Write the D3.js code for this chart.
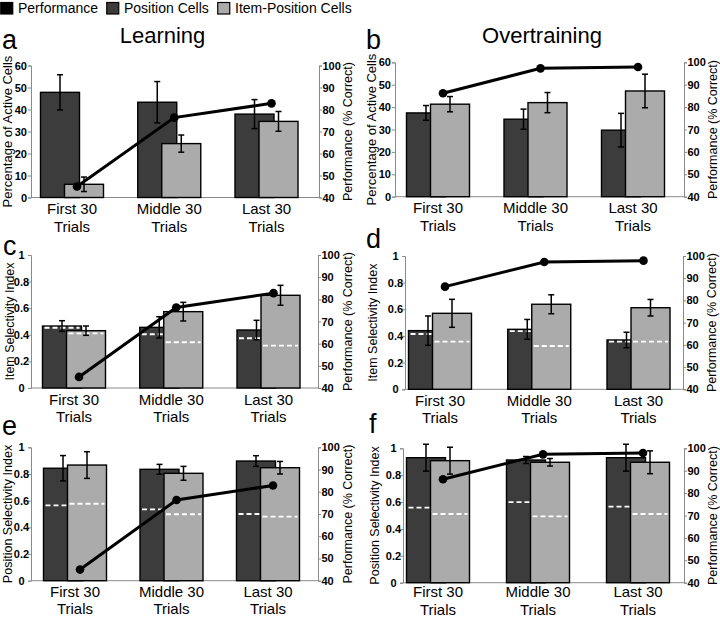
<!DOCTYPE html>
<html><head><meta charset="utf-8">
<script src="https://cdn.jsdelivr.net/npm/d3@7"></script>
<style>
body{margin:0;background:#fff}
svg{display:block}
text{font-family:"Liberation Sans",Arial,Helvetica,sans-serif}
</style>
</head><body>
<svg id="chart" width="720" height="617"></svg>
<script>
// ---------- data ----------
const categories = ["First 30 Trials", "Middle 30 Trials", "Last 30 Trials"];
const legendLabels = ["Performance", "Position Cells", "Item-Position Cells"];
const columnTitles = ["Learning", "Overtraining"];

const perfLearning = [45, 76.3, 82.8];
const perfOvertraining = [86.2, 97.3, 97.9];
const perfTicks = [40, 50, 60, 70, 80, 90, 100];

const activeTicks = [0, 10, 20, 30, 40, 50, 60];
const selectivityTicks = [0, 0.2, 0.4, 0.6, 0.8, 1];

// a: Percentage of active cells, learning
const activeLearnPos = [47.8, 43.3, 37.9];
const activeLearnPosErr = [8.0, 9.4, 6.6];
const activeLearnItem = [6.0, 24.5, 34.6];
const activeLearnItemErr = [3.3, 3.9, 4.5];
// b: Percentage of active cells, overtraining
const activeOverPos = [37.4, 34.6, 29.7];
const activeOverPosErr = [3.3, 4.5, 7.5];
const activeOverItem = [41.3, 42.0, 47.2];
const activeOverItemErr = [3.4, 4.5, 7.5];
// c: Item selectivity, learning
const itemSelLearnPos = [0.466, 0.456, 0.436];
const itemSelLearnPosErr = [0.04, 0.08, 0.073];
const itemSelLearnPosChance = [0.453, 0.404, 0.374];
const itemSelLearnItem = [0.431, 0.574, 0.697];
const itemSelLearnItemErr = [0.035, 0.07, 0.075];
const itemSelLearnItemChance = [0.411, 0.344, 0.318];
// d: Item selectivity, overtraining
const itemSelOverPos = [0.44, 0.45, 0.37];
const itemSelOverPosErr = [0.11, 0.074, 0.058];
const itemSelOverPosChance = [0.415, 0.437, 0.357];
const itemSelOverItem = [0.57, 0.638, 0.612];
const itemSelOverItemErr = [0.105, 0.071, 0.062];
const itemSelOverItemChance = [0.357, 0.325, 0.357];
// e: Position selectivity, learning
const posSelLearnPos = [0.843, 0.835, 0.897];
const posSelLearnPosErr = [0.095, 0.037, 0.04];
const posSelLearnPosChance = [0.565, 0.535, 0.5];
const posSelLearnItem = [0.867, 0.805, 0.847];
const posSelLearnItemErr = [0.1, 0.052, 0.047];
const posSelLearnItemChance = [0.577, 0.498, 0.48];
// f: Position selectivity, overtraining
const posSelOverPos = [0.93, 0.913, 0.93];
const posSelOverPosErr = [0.1, 0.026, 0.1];
const posSelOverPosChance = [0.558, 0.6, 0.566];
const posSelOverItem = [0.908, 0.896, 0.896];
const posSelOverItemErr = [0.1, 0.028, 0.085];
const posSelOverItemChance = [0.511, 0.494, 0.511];

// ---------- styles / layout ----------
const DARK = "#3c3c3c", LIGHT = "#ababab", AXIS = "#8a8a8a";
const BAR_W = 39, GROUP_W = 63;

const panels = [
  {letter:"a", lx:2, ly:49, yLabel:"Percentage of Active Cells", tfs:13, xL:31, xR:319, yTop:65.5, yBot:197.5, c1:72, c3:266.5,
   domain:[0,60], ticks:activeTicks, anchor:"end", pos:activeLearnPos, posErr:activeLearnPosErr, item:activeLearnItem, itemErr:activeLearnItemErr,
   perf:perfLearning, ltx:12, rtx:352, t1:16.5, t2:34},
  {letter:"b", lx:366, ly:49, yLabel:"Percentage of Active Cells", tfs:13, xL:395, xR:684, yTop:62.3, yBot:196.7, c1:438, c3:633,
   domain:[0,60], ticks:activeTicks, anchor:"end", pos:activeOverPos, posErr:activeOverPosErr, item:activeOverItem, itemErr:activeOverItemErr,
   perf:perfOvertraining, ltx:376, rtx:717, t1:16.5, t2:34},
  {letter:"c", lx:3, ly:255, yLabel:"Item Selectivity Index", tfs:12.5, xL:31, xR:318, yTop:255, yBot:388, c1:74, c3:268.5,
   domain:[0,1], ticks:selectivityTicks, anchor:"middle", pos:itemSelLearnPos, posErr:itemSelLearnPosErr, posCh:itemSelLearnPosChance,
   item:itemSelLearnItem, itemErr:itemSelLearnItemErr, itemCh:itemSelLearnItemChance, perf:perfLearning, ltx:14, rtx:352, t1:16.5, t2:34},
  {letter:"d", lx:366, ly:248, yLabel:"Item Selectivity Index", tfs:12.5, xL:405, xR:683, yTop:256, yBot:389.3, c1:440, c3:638.5,
   domain:[0,1], ticks:selectivityTicks, anchor:"middle", pos:itemSelOverPos, posErr:itemSelOverPosErr, posCh:itemSelOverPosChance,
   item:itemSelOverItem, itemErr:itemSelOverItemErr, itemCh:itemSelOverItemChance, perf:perfOvertraining, ltx:377, rtx:716, t1:16.5, t2:34},
  {letter:"e", lx:2, ly:435, yLabel:"Position Selectivity Index", tfs:12.5, xL:31, xR:318, yTop:447.3, yBot:580.7, c1:75, c3:268,
   domain:[0,1], ticks:selectivityTicks, anchor:"middle", pos:posSelLearnPos, posErr:posSelLearnPosErr, posCh:posSelLearnPosChance,
   item:posSelLearnItem, itemErr:posSelLearnItemErr, itemCh:posSelLearnItemChance, perf:perfLearning, ltx:12, rtx:352, t1:16, t2:33.5},
  {letter:"f", lx:369, ly:433, yLabel:"Position Selectivity Index", tfs:12.5, xL:403, xR:684, yTop:448.3, yBot:582.7, c1:438, c3:638,
   domain:[0,1], ticks:selectivityTicks, anchor:"middle", pos:posSelOverPos, posErr:posSelOverPosErr, posCh:posSelOverPosChance,
   item:posSelOverItem, itemErr:posSelOverItemErr, itemCh:posSelOverItemChance, perf:perfOvertraining, ltx:379, rtx:717, t1:14.5, t2:32}
];

const svg = d3.select("#chart");

// ---------- legend ----------
const legendX = [0, 106, 217];
const legendFill = ["#000", DARK, LIGHT];
const lg = svg.append("g");
legendLabels.forEach((lab, i) => {
  lg.append("rect").attr("x", legendX[i] + 0.75).attr("y", 2.5).attr("width", 12).attr("height", 11.5)
    .attr("fill", legendFill[i]).attr("stroke", "#000").attr("stroke-width", 1.2);
  lg.append("text").attr("x", legendX[i] + 18).attr("y", 13).attr("font-size", 14).text(lab);
});

// column titles
svg.append("text").attr("x", 162.5).attr("y", 43).attr("text-anchor", "middle").attr("font-size", 22).text(columnTitles[0]);
svg.append("text").attr("x", 542).attr("y", 43).attr("text-anchor", "middle").attr("font-size", 22).text(columnTitles[1]);

// ---------- panels ----------
panels.forEach(p => {
  const g = svg.append("g");
  const x = d3.scalePoint().domain(categories).range([p.c1, p.c3]);
  const yL = d3.scaleLinear().domain(p.domain).range([p.yBot, p.yTop]);
  const yR = d3.scaleLinear().domain([40, 100]).range([p.yBot, p.yTop]);

  // panel letter
  g.append("text").attr("x", p.lx).attr("y", p.ly).attr("font-size", 27).text(p.letter);

  // left axis
  const fmt = d3.format("~g");
  const axL = g.append("g").attr("transform", `translate(${p.xL},0)`)
    .call(d3.axisLeft(yL).tickValues(p.ticks).tickFormat(fmt).tickSize(3).tickPadding(1));
  axL.selectAll("path.domain, line").attr("stroke", AXIS);
  axL.selectAll("text").attr("font-size", 11).attr("font-weight", "bold").attr("fill", "#000")
    .attr("font-family", "Liberation Sans, Arial, sans-serif");
  if (p.anchor === "middle") axL.selectAll("text").attr("text-anchor", "middle").attr("x", -9.5);

  // right axis
  const axR = g.append("g").attr("transform", `translate(${p.xR},0)`)
    .call(d3.axisRight(yR).tickValues(perfTicks).tickSize(3).tickPadding(0.5));
  axR.selectAll("path.domain, line").attr("stroke", AXIS);
  axR.selectAll("text").attr("font-size", 11).attr("font-weight", "bold").attr("fill", "#000")
    .attr("font-family", "Liberation Sans, Arial, sans-serif");

  // baseline
  g.append("line").attr("x1", p.xL).attr("x2", p.xR).attr("y1", p.yBot).attr("y2", p.yBot).attr("stroke", AXIS);

  // axis titles
  g.append("text").attr("transform", `translate(${p.ltx},${(p.yTop + p.yBot) / 2}) rotate(-90)`)
    .attr("text-anchor", "middle").attr("font-size", p.tfs).text(p.yLabel);
  g.append("text").attr("transform", `translate(${p.rtx},${(p.yTop + p.yBot) / 2}) rotate(-90)`)
    .attr("text-anchor", "middle").attr("font-size", 12.5).text("Performance (% Correct)");

  // category labels
  categories.forEach(c => {
    const parts = c.split(" ");
    const l1 = parts.slice(0, 2).join(" "), l2 = parts.slice(2).join(" ");
    const t = g.append("text").attr("text-anchor", "middle").attr("font-size", 15);
    t.append("tspan").attr("x", x(c)).attr("y", p.yBot + p.t1).text(l1);
    t.append("tspan").attr("x", x(c)).attr("y", p.yBot + p.t2).text(l2);
  });

  const series = [
    {vals: p.pos, err: p.posErr, ch: p.posCh, fill: DARK, off: -GROUP_W / 2},
    {vals: p.item, err: p.itemErr, ch: p.itemCh, fill: LIGHT, off: GROUP_W / 2 - BAR_W}
  ];
  // bars + chance lines
  series.forEach(s => {
    categories.forEach((c, i) => {
      const bx = x(c) + s.off;
      g.append("rect").attr("x", bx).attr("y", yL(s.vals[i])).attr("width", BAR_W)
        .attr("height", p.yBot - yL(s.vals[i])).attr("fill", s.fill).attr("stroke", "#000").attr("stroke-width", 1.4);
      if (s.ch) {
        g.append("line").attr("x1", bx + 2).attr("x2", bx + BAR_W - 2).attr("y1", yL(s.ch[i])).attr("y2", yL(s.ch[i]))
          .attr("stroke", "#fff").attr("stroke-width", 1.8).attr("stroke-dasharray", "5,3");
      }
    });
  });
  // error bars
  series.forEach(s => {
    categories.forEach((c, i) => {
      const cx = x(c) + s.off + BAR_W / 2;
      const y1 = yL(s.vals[i] + s.err[i]), y2 = yL(s.vals[i] - s.err[i]);
      g.append("line").attr("x1", cx).attr("x2", cx).attr("y1", y1).attr("y2", y2).attr("stroke", "#000").attr("stroke-width", 1.5);
      [y1, y2].forEach(yy => g.append("line").attr("x1", cx - 3).attr("x2", cx + 3).attr("y1", yy).attr("y2", yy)
        .attr("stroke", "#000").attr("stroke-width", 1.5));
    });
  });
  // performance line
  const line = d3.line().x((d, i) => x(categories[i]) + 5).y(d => yR(d));
  g.append("path").datum(p.perf).attr("d", line).attr("fill", "none").attr("stroke", "#000").attr("stroke-width", 3);
  g.selectAll("circle.perf").data(p.perf).join("circle").attr("class", "perf")
    .attr("cx", (d, i) => x(categories[i]) + 5).attr("cy", d => yR(d)).attr("r", 4.3).attr("fill", "#000");
});
</script>
</body></html>
